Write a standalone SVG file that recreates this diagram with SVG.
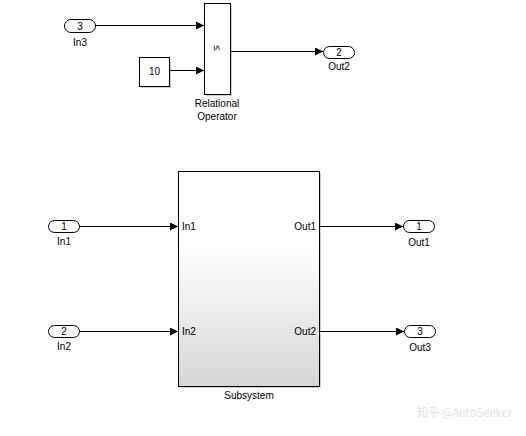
<svg xmlns="http://www.w3.org/2000/svg" width="526" height="436" viewBox="0 0 526 436">
<defs>
<marker id="ah" viewBox="0 0 8 8" refX="8" refY="4" markerWidth="8" markerHeight="8" markerUnits="userSpaceOnUse" orient="auto">
<path d="M0,0 L8,4 L0,8 z" fill="#000"/>
</marker>
<linearGradient id="sg" x1="0" y1="0" x2="0" y2="1">
<stop offset="0" stop-color="#ffffff"/>
<stop offset="0.35" stop-color="#ffffff"/>
<stop offset="1" stop-color="#d6d6d6"/>
</linearGradient>
</defs>
<style>
text{font-family:"Liberation Sans",Arial,sans-serif;font-size:10px;fill:#000}
.port{fill:#fff;stroke:#000;stroke-width:1}
.blk{fill:#fff;stroke:#000;stroke-width:1}
.sh{fill:#cfcfcf}
.wire{fill:none;stroke:#000;stroke-width:1;marker-end:url(#ah)}
.c{text-anchor:middle}
</style>
<rect width="526" height="436" fill="#fff"/>
<g id="In3">
<rect class="port" x="64.5" y="19.5" width="31" height="13" rx="6.5"/>
<text class="c" x="80" y="29.5">3</text>
<text class="c" x="80" y="46">In3</text>
</g>
<g id="Constant">
<rect class="sh" x="141" y="59" width="30" height="29"/>
<rect class="blk" x="139.5" y="57.5" width="30" height="29"/>
<text class="c" x="154.5" y="75">10</text>
</g>
<g id="RelationalOperator">
<rect class="sh" x="206" y="5" width="26" height="91"/>
<rect class="blk" x="204.5" y="3.5" width="26" height="91"/>
<text class="c" transform="translate(217.5,48) rotate(90)" x="0" y="3.5">≤</text>
<text class="c" x="217" y="107">Relational</text>
<text class="c" x="217" y="120">Operator</text>
</g>
<g id="Out2">
<rect class="port" x="323.5" y="46.5" width="31" height="12" rx="6"/>
<text class="c" x="339" y="56">2</text>
<text class="c" x="339" y="70">Out2</text>
</g>
<g id="In1">
<rect class="port" x="48.5" y="220.5" width="31" height="12" rx="6"/>
<text class="c" x="64" y="230">1</text>
<text class="c" x="64" y="245">In1</text>
</g>
<g id="In2">
<rect class="port" x="48.5" y="325.5" width="31" height="12" rx="6"/>
<text class="c" x="64" y="335">2</text>
<text class="c" x="64" y="350">In2</text>
</g>
<g id="Subsystem">
<rect class="sh" x="180" y="173" width="141" height="215"/>
<rect x="178.5" y="171.5" width="141" height="215" fill="url(#sg)" stroke="#000"/>
<text x="182" y="230">In1</text>
<text x="182" y="335">In2</text>
<text x="316" y="230" text-anchor="end">Out1</text>
<text x="316" y="335" text-anchor="end">Out2</text>
<text class="c" x="249" y="399">Subsystem</text>
</g>
<g id="Out1">
<rect class="port" x="403.5" y="220.5" width="31" height="12" rx="6"/>
<text class="c" x="419" y="230">1</text>
<text class="c" x="419" y="246">Out1</text>
</g>
<g id="Out3">
<rect class="port" x="404.5" y="325.5" width="31" height="12" rx="6"/>
<text class="c" x="420" y="335">3</text>
<text class="c" x="420" y="351">Out3</text>
</g>
<g id="connectors">
<path class="wire" d="M95.5,25.5 H204"/>
<path class="wire" d="M169.5,70.5 H204"/>
<path class="wire" d="M230.5,51.5 H323"/>
<path class="wire" d="M79.5,226.5 H178"/>
<path class="wire" d="M79.5,331.5 H178"/>
<path class="wire" d="M319.5,226.5 H403"/>
<path class="wire" d="M319.5,331.5 H404"/>
</g>
<text x="417" y="417" textLength="95" lengthAdjust="spacingAndGlyphs" style="font-family:'Noto Sans CJK SC','Liberation Sans',sans-serif;font-size:12px;fill:#e2e2e2">知乎 @AutoSeeker</text>
</svg>
